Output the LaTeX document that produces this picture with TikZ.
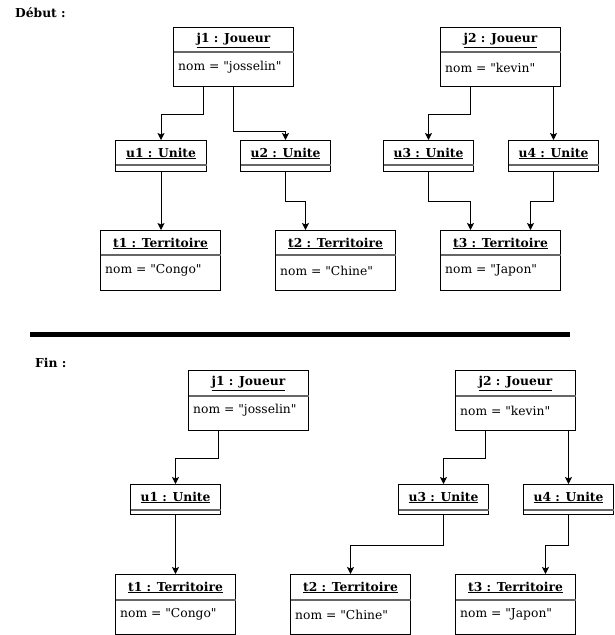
\documentclass[tikz,border=0pt]{standalone}
\usepackage{fontspec}
\setmainfont{DejaVu Serif}[Ligatures=TeXOff]
\usetikzlibrary{arrows.meta,calc}
\tikzset{
  objbox/.style={draw=black,line width=1pt,rectangle,inner sep=0pt,anchor=north west},
  divider/.style={draw=black!60,line width=1.5pt},
  ttl/.style={font=\fontsize{12.3}{14}\selectfont\bfseries,inner sep=0pt},
  attr/.style={font=\fontsize{12.3}{14}\selectfont,inner sep=0pt,anchor=west},
  heading/.style={font=\fontsize{12.3}{14}\selectfont\bfseries,inner sep=0pt,anchor=west},
  arr/.style={draw=black,line width=1pt,-{Stealth[length=7pt,width=7pt,inset=1.5pt]}},
  sep/.style={draw=black,line width=5pt}
}
% \objwithattr{name}{x}{y}{w}{h}{div}{title}{attr}
\newcommand{\objwithattr}[8]{%
  \node[objbox,minimum width=#4pt,minimum height=#5pt] (#1) at (#2,#3) {};
  \node[ttl] (#1-t) at ($(#1.north)+(0,13.5)$) {\underline{#7}};
  \draw[divider] ($(#1.north west)+(0.5,#6)$) -- ($(#1.north east)+(-0.5,#6)$);
  \node[attr] (#1-a) at ($(#1.north west)+(5,40.5)$) {#8};
}
\newcommand{\objnoattr}[7]{%
  \node[objbox,minimum width=#4pt,minimum height=#5pt] (#1) at (#2,#3) {};
  \node[ttl] (#1-t) at ($(#1.north)+(0,13.5)$) {\underline{#7}};
  \draw[divider] ($(#1.north west)+(0.5,#6)$) -- ($(#1.north east)+(-0.5,#6)$);
}
\begin{document}
\begin{tikzpicture}[x=1pt,y=-1pt]
\useasboundingbox (0,0) rectangle (614,635);
% ---------- Début ----------
\node[heading] (hdebut) at (15,13) {Début :};
\objwithattr{j1a}{173}{27}{120}{59}{25}{j1 : Joueur}{nom = "josselin"}
\objwithattr{j2a}{440}{27}{120}{59}{25}{j2 : Joueur}{nom = "kevin"}
\objnoattr{u1a}{115}{140}{91}{31}{25}{u1 : Unite}
\objnoattr{u2a}{240}{140}{90}{31}{25}{u2 : Unite}
\objnoattr{u3a}{383}{140}{90}{31}{25}{u3 : Unite}
\objnoattr{u4a}{508}{140}{90}{31}{25}{u4 : Unite}
\objwithattr{t1a}{100}{230}{120}{60}{25}{t1 : Territoire}{nom = "Congo"}
\objwithattr{t2a}{275}{230}{120}{60}{25}{t2 : Territoire}{nom = "Chine"}
\objwithattr{t3a}{440}{230}{120}{60}{25}{t3 : Territoire}{nom = "Japon"}
\draw[arr] ([xshift=-30]j1a.south) -- ++(0,27) -| (u1a.north);
\draw[arr] (j1a.south) -- ++(0,44) -| (u2a.north);
\draw[arr] (u1a.south) -- (u1a.south |- t1a.north);
\draw[arr] (u2a.south) -- ++(0,29) -| ([xshift=-30]t2a.north);
\draw[arr] ([xshift=-30]j2a.south) -- ++(0,27) -| (u3a.north);
\draw[arr] (j2a.south -| u4a.north) -- (u4a.north);
\draw[arr] (u3a.south) -- ++(0,29) -| ([xshift=-30]t3a.north);
\draw[arr] (u4a.south) -- ++(0,29) -| ([xshift=30]t3a.north);
% ---------- separator ----------
\coordinate (sepL) at (30,334.5);
\coordinate (sepR) at (570,334.5);
\draw[sep] (sepL) -- (sepR);
% ---------- Fin ----------
\node[heading] (hfin) at (35,363) {Fin :};
\objwithattr{j1b}{188}{370}{120}{60}{26}{j1 : Joueur}{nom = "josselin"}
\objwithattr{j2b}{455}{370}{120}{60}{26}{j2 : Joueur}{nom = "kevin"}
\objnoattr{u1b}{130}{484}{90}{30}{26}{u1 : Unite}
\objnoattr{u3b}{398}{484}{90}{30}{26}{u3 : Unite}
\objnoattr{u4b}{523}{484}{90}{30}{26}{u4 : Unite}
\objwithattr{t1b}{115}{574}{120}{60}{26}{t1 : Territoire}{nom = "Congo"}
\objwithattr{t2b}{290}{574}{120}{60}{26}{t2 : Territoire}{nom = "Chine"}
\objwithattr{t3b}{455}{574}{120}{60}{26}{t3 : Territoire}{nom = "Japon"}
\draw[arr] ([xshift=-30]j1b.south) -- ++(0,27) -| (u1b.north);
\draw[arr] (u1b.south) -- (u1b.south |- t1b.north);
\draw[arr] ([xshift=-30]j2b.south) -- ++(0,27) -| (u3b.north);
\draw[arr] (j2b.south -| u4b.north) -- (u4b.north);
\draw[arr] (u3b.south) -- ++(0,30) -| (t2b.north);
\draw[arr] (u4b.south) -- ++(0,30) -| ([xshift=30]t3b.north);
\end{tikzpicture}
\end{document}
